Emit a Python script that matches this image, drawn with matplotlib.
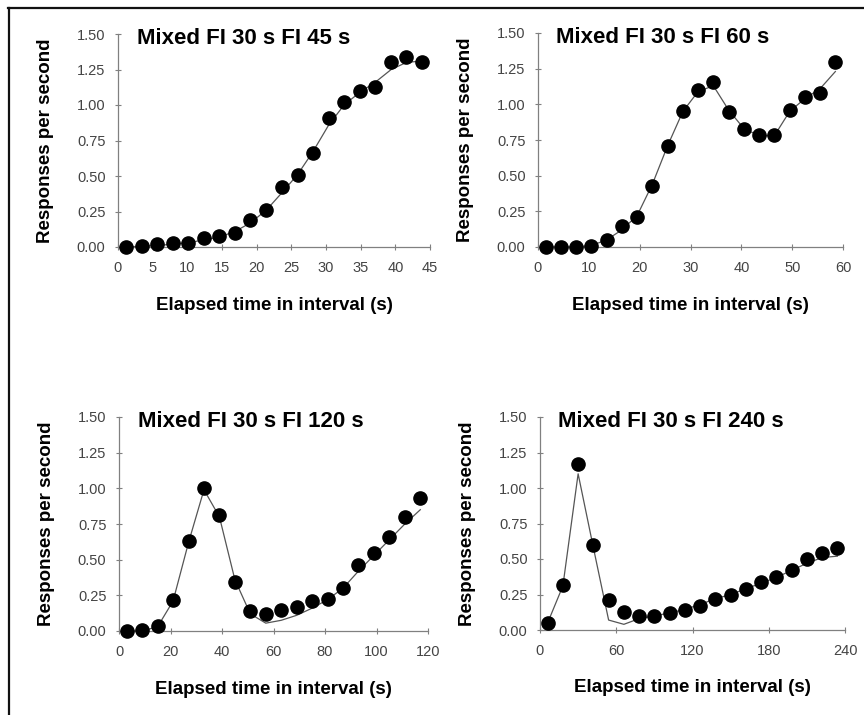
import matplotlib.pyplot as plt
from matplotlib.lines import Line2D

plt.rcParams["font.family"] = ["Liberation Sans", "DejaVu Sans"]

# Panel titles and x-axis settings
titles = ["Mixed FI 30 s FI 45 s", "Mixed FI 30 s FI 60 s",
          "Mixed FI 30 s FI 120 s", "Mixed FI 30 s FI 240 s"]
x_max = [45, 60, 120, 240]
x_ticks = [
    [0, 5, 10, 15, 20, 25, 30, 35, 40, 45],
    [0, 10, 20, 30, 40, 50, 60],
    [0, 20, 40, 60, 80, 100, 120],
    [0, 60, 120, 180, 240],
]
y_ticks = [0.00, 0.25, 0.50, 0.75, 1.00, 1.25, 1.50]

# Bin centres (s)
t_45 = [1.1, 3.4, 5.6, 7.9, 10.1, 12.4, 14.6, 16.9, 19.1, 21.4,
        23.6, 25.9, 28.1, 30.4, 32.6, 34.9, 37.1, 39.4, 41.6, 43.9]
t_60 = [1.5, 4.5, 7.5, 10.5, 13.5, 16.5, 19.5, 22.5, 25.5, 28.5,
        31.5, 34.5, 37.5, 40.5, 43.5, 46.5, 49.5, 52.5, 55.5, 58.5]
t_120 = [3, 9, 15, 21, 27, 33, 39, 45, 51, 57,
         63, 69, 75, 81, 87, 93, 99, 105, 111, 117]
t_240 = [6, 18, 30, 42, 54, 66, 78, 90, 102, 114,
         126, 138, 150, 162, 174, 186, 198, 210, 222, 234]

# Observed response rates (dots)
obs_45 = [0.00, 0.01, 0.02, 0.03, 0.03, 0.06, 0.08, 0.10, 0.19, 0.26,
          0.42, 0.51, 0.66, 0.91, 1.02, 1.10, 1.13, 1.30, 1.34, 1.30]
obs_60 = [0.00, 0.00, 0.00, 0.01, 0.05, 0.145, 0.21, 0.43, 0.71, 0.95,
          1.10, 1.155, 0.945, 0.825, 0.785, 0.785, 0.96, 1.05, 1.08, 1.30]
obs_120 = [0.00, 0.005, 0.035, 0.215, 0.63, 1.00, 0.81, 0.34, 0.14, 0.117,
           0.15, 0.17, 0.21, 0.227, 0.30, 0.46, 0.55, 0.66, 0.80, 0.93]
obs_240 = [0.047, 0.316, 1.167, 0.60, 0.21, 0.124, 0.10, 0.10, 0.117, 0.14,
           0.17, 0.22, 0.25, 0.286, 0.34, 0.37, 0.42, 0.50, 0.54, 0.574]

# Model fit (line)
fit_45 = [0.00, 0.005, 0.01, 0.02, 0.03, 0.05, 0.07, 0.11, 0.17, 0.26,
          0.38, 0.51, 0.67, 0.86, 1.00, 1.09, 1.16, 1.25, 1.30, 1.31]
fit_60 = [0.00, 0.00, 0.00, 0.01, 0.05, 0.12, 0.22, 0.44, 0.71, 0.95,
          1.09, 1.13, 0.96, 0.83, 0.78, 0.78, 0.95, 1.04, 1.11, 1.23]
fit_120 = [0.00, 0.00, 0.03, 0.21, 0.62, 0.99, 0.80, 0.36, 0.12, 0.055,
           0.075, 0.11, 0.16, 0.22, 0.30, 0.42, 0.53, 0.64, 0.75, 0.85]
fit_240 = [0.05, 0.31, 1.10, 0.58, 0.07, 0.04, 0.08, 0.10, 0.12, 0.145,
           0.18, 0.22, 0.25, 0.29, 0.33, 0.37, 0.42, 0.47, 0.51, 0.52]

times = [t_45, t_60, t_120, t_240]
observed = [obs_45, obs_60, obs_120, obs_240]
fitted = [fit_45, fit_60, fit_120, fit_240]

W, H = 864, 715
# axes boxes in pixels: left, right, bottom, top
boxes = [(118, 430, 247, 34), (538, 843, 247, 33),
         (119, 428, 631, 417), (540, 845, 630, 417)]

fig = plt.figure(figsize=(W / 100, H / 100), dpi=100)

# figure frame: top and left edges only
fig.add_artist(Line2D([8 / W, 1], [1 - 7.5 / H, 1 - 7.5 / H], color="#111111", lw=1.6))
fig.add_artist(Line2D([8.5 / W, 8.5 / W], [0, 1 - 7.5 / H], color="#111111", lw=1.6))

axis_grey = "#808080"
for i in range(4):
    l, r, b, t = boxes[i]
    ax = fig.add_axes([l / W, 1 - b / H, (r - l) / W, (b - t) / H])
    ax.plot(times[i], fitted[i], color="#555555", lw=0.9, zorder=2, clip_on=False)
    ax.plot(times[i], observed[i], "o", color="black", ms=9.5, zorder=3, clip_on=False)

    ax.set_xlim(0, x_max[i])
    ax.set_ylim(0, 1.5)
    ax.set_xticks(x_ticks[i])
    ax.set_yticks(y_ticks)
    ax.set_yticklabels([f"{v:.2f}" for v in y_ticks])

    for side in ["top", "right"]:
        ax.spines[side].set_visible(False)
    for side in ["left", "bottom"]:
        ax.spines[side].set_color(axis_grey)
        ax.spines[side].set_linewidth(0.9)
    ax.tick_params(axis="both", direction="inout", length=4, width=0.8,
                   color=axis_grey, labelsize=10.5, labelcolor="#444444")
    ax.tick_params(axis="x", pad=8)
    ax.tick_params(axis="y", pad=7)

    ax.text(0.06, 0.955, titles[i], transform=ax.transAxes, ha="left", va="baseline",
            fontsize=16, fontweight="bold")
    ax.set_xlabel("Elapsed time in interval (s)", fontsize=13.5, fontweight="bold", va="center")
    ax.xaxis.set_label_coords(0.5, -58 / (b - t))
    ax.set_ylabel("Responses per second", fontsize=13.5, fontweight="bold", va="center")
    ax.yaxis.set_label_coords(-72 / (r - l), 0.5)

fig.savefig("out.png", dpi=100)
